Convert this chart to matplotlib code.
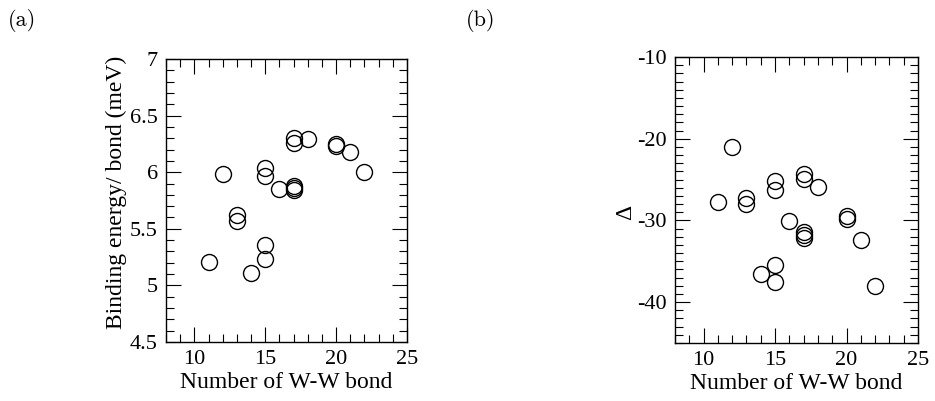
#!/usr/bin/env python3
"""
Two-panel scatter: binding energy per bond and Delta vs number of W-W bonds.
"""
import matplotlib
matplotlib.use('Agg')
import matplotlib.pyplot as plt
from matplotlib.ticker import MultipleLocator

plt.rcParams['font.family'] = ['Liberation Serif', 'DejaVu Serif']
plt.rcParams['axes.unicode_minus'] = False

# Number of W-W bonds for each cluster (shared by both panels)
n_bonds = [11, 12, 13, 13, 14, 15, 15, 15, 15, 16,
           17, 17, 17, 17, 17, 18, 20, 20, 21, 22]

# (a) binding energy per bond (meV)
binding = [5.21, 5.98, 5.62, 5.57, 5.11, 6.04, 5.97, 5.36, 5.23, 5.85,
           6.30, 6.26, 5.88, 5.86, 5.84, 6.29, 6.25, 6.23, 6.18, 6.00]

# (b) Delta
delta = [-27.7, -21.0, -27.3, -28.0, -36.6, -25.2, -26.3, -35.5, -37.5, -30.1,
         -24.3, -24.9, -31.4, -31.8, -32.2, -25.9, -29.5, -29.8, -32.4, -38.0]

a_yticks = [4.5, 5, 5.5, 6, 6.5, 7]
a_yticklabels = ['4.5', '5', '5.5', '6', '6.5', '7']
b_yticks = [-40, -30, -20, -10]

FS = 16
W, H = 935, 401

fig = plt.figure(figsize=(W / 100, H / 100), dpi=100)

# axes boxes in pixels: (left, top, right, bottom)
boxes = [(166, 59, 407, 342), (675, 57, 918, 343)]
axes = []
for (l, t, r, b) in boxes:
    ax = fig.add_axes([l / W, 1 - b / H, (r - l) / W, (b - t) / H])
    axes.append(ax)


def style(ax):
    ax.tick_params(which='both', direction='in', top=True, right=True,
                   labelsize=FS, width=0.8, pad=6)
    ax.tick_params(which='major', length=11)
    ax.tick_params(which='minor', length=5.5)
    for sp in ax.spines.values():
        sp.set_linewidth(1.0)
    ax.set_xlim(8, 25)
    ax.xaxis.set_major_locator(MultipleLocator(5))
    ax.xaxis.set_minor_locator(MultipleLocator(1))
    ax.set_xlabel('Number of W-W bond', fontsize=17, labelpad=2)


ax1, ax2 = axes

ax1.plot(n_bonds, binding, 'o', ms=11.5, mfc='none', mec='black', mew=1.0)
style(ax1)
ax1.set_ylim(4.5, 7)
ax1.set_yticks(a_yticks)
ax1.set_yticklabels(a_yticklabels)
ax1.yaxis.set_minor_locator(MultipleLocator(0.1))
ax1.set_ylabel('Binding energy/ bond (meV)', fontsize=17)
ax1.yaxis.set_label_coords(-0.163, 0.528)

ax2.plot(n_bonds, delta, 'o', ms=11.5, mfc='none', mec='black', mew=1.0)
style(ax2)
ax2.set_ylim(-45, -10)
ax2.set_yticks(b_yticks)
ax2.yaxis.set_minor_locator(MultipleLocator(1))
ax2.set_ylabel('\u0394', fontsize=17)
ax2.yaxis.set_label_coords(-0.16, 0.458)

fig.text(8 / W, 1 - 21 / H, '(a)', fontsize=16, family='cmr10',
         ha='left', va='center')
fig.text(466 / W, 1 - 21 / H, '(b)', fontsize=16, family='cmr10',
         ha='left', va='center')

fig.savefig('out.png', dpi=100)
